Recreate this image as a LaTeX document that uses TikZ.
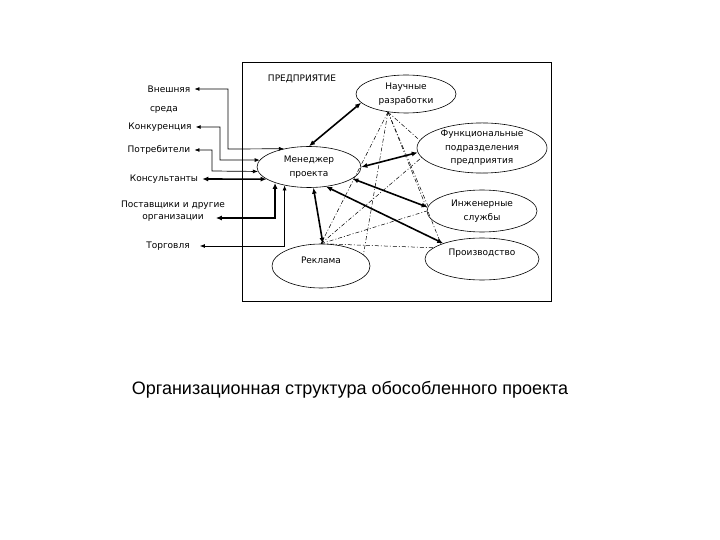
\documentclass[tikz,border=0pt]{standalone}
\usepackage{fontspec}
\setmainfont{DejaVu Sans}
\newfontfamily\captionfont{Liberation Sans}
\usetikzlibrary{shapes.geometric,arrows.meta}
\tikzset{
  blob/.style={draw, ellipse, inner sep=0pt, align=center, line width=0.6bp,
    font=\fontsize{9bp}{13.5bp}\selectfont},
  txt/.style={inner sep=0pt, align=center, font=\fontsize{9bp}{13.5bp}\selectfont},
  lbl/.style={inner sep=4bp, font=\fontsize{9bp}{13.5bp}\selectfont},
  thinarr/.style={{Latex[length=5bp,width=4bp]}-{Latex[length=5bp,width=4bp]}, line width=0.7bp},
  thickarr/.style={{Latex[length=6bp,width=5bp]}-{Latex[length=6bp,width=5bp]}, line width=1.6bp},
  link/.style={dash pattern=on 4bp off 2bp on 1bp off 2bp, line width=0.5bp},
}
\begin{document}
\begin{tikzpicture}[x=1bp,y=-1bp]
\useasboundingbox (0,0) rectangle (720,540);
% enterprise frame
\draw [line width=0.8bp] (242,62) rectangle (551,301);
\node [lbl] (ent) at (302,79) {ПРЕДПРИЯТИЕ};

% units inside the enterprise
\node [blob, minimum width=104bp, minimum height=41bp] (man) at (309,167) {Менеджер\\проекта};
\node [blob, minimum width=100bp, minimum height=38bp] (sci) at (406,94) {Научные\\разработки};
\node [blob, minimum width=130bp, minimum height=48bp] (fun) at (482,148) {Функциональные\\подразделения\\предприятия};
\node [blob, minimum width=110bp, minimum height=42bp] (eng) at (482,211) {Инженерные\\службы};
\node [blob, minimum width=114bp, minimum height=42bp, label={[txt, yshift=6bp]center:Производство}] (prod) at (482,259) {};
\node [blob, minimum width=98bp, minimum height=44bp, label={[txt, yshift=6bp]center:Реклама}] (adv) at (321,266) {};

% external environment
\node [lbl] (ext) at (169,89) {Внешняя};
\node [lbl] (env) at (164,110) {среда};
\node [lbl] (comp) at (160,127) {Конкуренция};
\node [lbl] (cust) at (159,150) {Потребители};
\node [lbl] (cnsl) at (164,179) {Консультанты};
\node [lbl] (sup) at (173,205) {Поставщики и другие};
\node [lbl] (org) at (173,218) {организации};
\node [lbl] (trade) at (168,246) {Торговля};

\draw [thinarr] (ext.east) -| (228,149) -- (man.144);
\draw [thinarr] (comp.east) -| (220,160) -- (man.172);
\draw [thinarr] (cust.east) -| (212,171) -- (man.185);
\draw [thickarr] (cnsl.east) -- (man.196);
\draw [thickarr] ([xshift=8bp]org.east) -| (man.205);
\draw [thinarr] ([xshift=6bp]trade.east) -| (man.217);

% manager links
\draw [thickarr] (man.90) -- (sci.191);
\draw [thickarr] (man.0) -- (fun.184);
\draw [thickarr] (man.-15) -- (eng.176);
\draw [thickarr] (man.-49) -- (prod.158);
\draw [thickarr] (man.-78) -- (adv.85);

% informal links
\draw [link] (sci.225) -- (adv.north);
\draw [link] (sci.225) -- (adv.15);
\draw [link] (sci.225) -- (fun.173);
\draw [link] (sci.225) -- (eng.175);
\draw [link] (sci.225) -- (prod.160);
\draw [link] (adv.north) -- (fun.189);
\draw [link] (adv.north) -- (eng.180);
\draw [link] (adv.north) -- (prod.167);

\node [font=\captionfont\fontsize{18bp}{21bp}\selectfont] (cap) at (350,390) {Организационная структура обособленного проекта};
\end{tikzpicture}
\end{document}
